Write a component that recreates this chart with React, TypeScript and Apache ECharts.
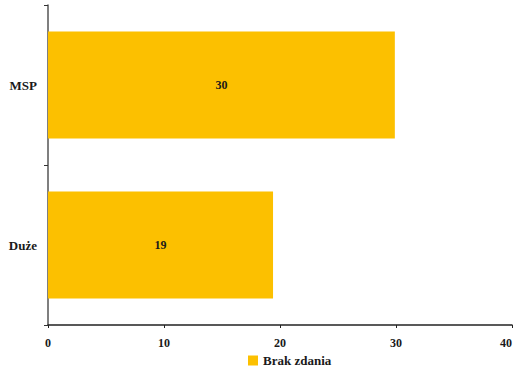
import React, { useEffect, useRef } from "react";
import * as echarts from "echarts";

// Company-size groups and the share answering "Brak zdania"
const categories = ["MSP", "Duże"];
const seriesName = "Brak zdania";
const values = [29.9, 19.4];
const xTicks = { min: 0, max: 40, interval: 10 };

const FONT = "'Liberation Serif', 'DejaVu Serif', serif";
const BAR_COLOR = "#FCC000";
const TEXT_COLOR = "#1a1a1a";

export default function App() {
  const ref = useRef<HTMLDivElement>(null);

  useEffect(() => {
    if (!ref.current) return;
    const chart = echarts.init(ref.current, undefined, { renderer: "svg" });
    chart.setOption({
      animation: false,
      backgroundColor: "#ffffff",
      grid: {
        left: 48,
        right: 4,
        top: 5,
        bottom: 51,
        containLabel: false,
        outerBoundsMode: "none",
      },
      legend: {
        data: [seriesName],
        bottom: 4,
        left: 243,
        itemWidth: 10,
        itemHeight: 10,
        itemGap: 4,
        icon: "rect",
        textStyle: {
          fontFamily: FONT,
          fontWeight: "bold",
          fontSize: 13,
          color: TEXT_COLOR,
        },
      },
      xAxis: {
        type: "value",
        min: xTicks.min,
        max: xTicks.max,
        interval: xTicks.interval,
        splitLine: { show: false },
        axisLine: { show: true, lineStyle: { color: "#222", width: 1.5 } },
        axisTick: { show: true, length: 3, lineStyle: { color: "#222" } },
        axisLabel: {
          margin: 12,
          alignMaxLabel: "right",
          fontFamily: FONT,
          fontWeight: "bold",
          fontSize: 12,
          color: TEXT_COLOR,
        },
      },
      yAxis: {
        type: "category",
        data: categories,
        inverse: true,
        axisLine: { show: true, lineStyle: { color: "#555", width: 1.5 } },
        axisTick: { show: true, length: 4, lineStyle: { color: "#333" } },
        axisLabel: {
          margin: 11,
          fontFamily: FONT,
          fontWeight: "bold",
          fontSize: 13,
          color: TEXT_COLOR,
        },
      },
      series: [
        {
          name: seriesName,
          type: "bar",
          data: values,
          barCategoryGap: "33%",
          itemStyle: { color: BAR_COLOR },
          label: {
            show: true,
            position: "inside",
            formatter: (p: any) => Math.round(p.value).toString(),
            fontFamily: FONT,
            fontWeight: "bold",
            fontSize: 12,
            color: TEXT_COLOR,
          },
        },
      ],
    });
    return () => chart.dispose();
  }, []);

  return (
    <div
      ref={ref}
      style={{ position: "fixed", left: 0, top: 0, width: 516, height: 376 }}
    />
  );
}
